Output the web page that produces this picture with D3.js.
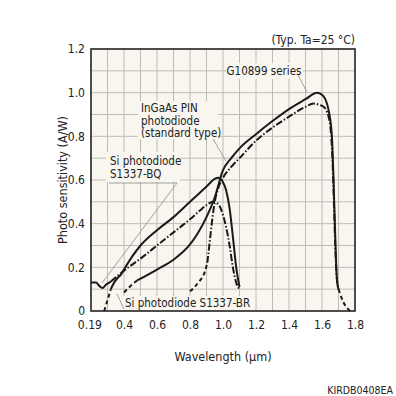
<!DOCTYPE html>
<html>
<head>
<meta charset="utf-8">
<script src="https://cdn.jsdelivr.net/npm/d3@7"></script>
<style>
  body { margin: 0; background: #fff; }
  svg text { font-family: "DejaVu Sans Condensed", "DejaVu Sans", sans-serif; fill: #222; }
</style>
</head>
<body>
<div id="chart"></div>
<script>
// tick labels
var xTicks = [0.19, 0.4, 0.6, 0.8, 1.0, 1.2, 1.4, 1.6, 1.8];
var yTicks = [0, 0.2, 0.4, 0.6, 0.8, 1.0, 1.2];

// G10899 series (solid, dashed ends)
var g10899Start = [[0.40, 0.085], [0.44, 0.115], [0.48, 0.14]];
var g10899 = [[0.48, 0.14], [0.6, 0.19], [0.7, 0.235], [0.8, 0.305], [0.85, 0.36], [0.9, 0.43],
  [0.95, 0.52], [1.0, 0.645], [1.05, 0.70], [1.1, 0.745], [1.2, 0.81], [1.3, 0.87], [1.4, 0.925],
  [1.5, 0.97], [1.57, 1.0], [1.6, 0.99], [1.62, 0.97], [1.64, 0.92], [1.66, 0.80], [1.67, 0.6],
  [1.68, 0.35], [1.69, 0.15], [1.70, 0.10]];
var g10899Tail = [[1.70, 0.10], [1.73, 0.04], [1.77, 0.0]];

// InGaAs PIN photodiode standard type (dash-dot, dashed start)
var ingaasStart = [[0.80, 0.09], [0.85, 0.13], [0.89, 0.18], [0.905, 0.22]];
var ingaas = [[0.905, 0.22], [0.92, 0.32], [0.935, 0.42], [0.95, 0.50], [0.97, 0.56], [1.0, 0.61],
  [1.05, 0.66], [1.1, 0.70], [1.2, 0.78], [1.3, 0.84], [1.4, 0.89], [1.5, 0.935], [1.55, 0.95],
  [1.58, 0.945], [1.61, 0.935], [1.64, 0.89], [1.66, 0.75], [1.67, 0.55], [1.68, 0.3],
  [1.69, 0.15], [1.70, 0.10]];

// Si photodiode S1337-BQ (solid UV part, then dash-dot)
var bqUv = [[0.2, 0.13], [0.23, 0.13], [0.25, 0.115], [0.27, 0.105], [0.29, 0.12], [0.32, 0.135]];
var bq = [[0.32, 0.135], [0.4, 0.185], [0.5, 0.24], [0.6, 0.30], [0.7, 0.36], [0.8, 0.42],
  [0.86, 0.46], [0.9, 0.485], [0.94, 0.50], [0.97, 0.49], [1.0, 0.44], [1.02, 0.38],
  [1.04, 0.30], [1.06, 0.20], [1.08, 0.13], [1.10, 0.10]];

// Si photodiode S1337-BR (solid, dashed start)
var brStart = [[0.28, 0.0], [0.30, 0.05], [0.32, 0.10]];
var br = [[0.32, 0.10], [0.34, 0.13], [0.36, 0.15], [0.38, 0.165], [0.4, 0.19], [0.45, 0.25],
  [0.5, 0.30], [0.6, 0.37], [0.7, 0.43], [0.8, 0.50], [0.9, 0.57], [0.95, 0.605], [0.97, 0.61],
  [1.0, 0.59], [1.02, 0.55], [1.04, 0.47], [1.06, 0.34], [1.08, 0.20], [1.10, 0.11]];

var width = 396, height = 396;
var margin = {top: 49, right: 41, bottom: 85, left: 91};
var w = width - margin.left - margin.right,
    h = height - margin.top - margin.bottom;
var bg = "#f8f6ef";

var x = d3.scaleLinear().domain([0.2, 1.8]).range([0, w]);
var y = d3.scaleLinear().domain([0, 1.2]).range([h, 0]);

var svg = d3.select("#chart").append("svg")
    .attr("width", width)
    .attr("height", height);

var g = svg.append("g")
    .attr("transform", "translate(" + margin.left + "," + margin.top + ")");

g.append("rect")
    .attr("width", w)
    .attr("height", h)
    .attr("fill", bg);

// grid every 0.1
g.append("g").selectAll("line")
    .data(d3.range(3, 18).map(function(i) { return i / 10; }))
    .enter().append("line")
    .attr("x1", function(d) { return x(d); })
    .attr("x2", function(d) { return x(d); })
    .attr("y1", 0).attr("y2", h)
    .attr("stroke", "#bdbcb6").attr("stroke-width", 1);

g.append("g").selectAll("line")
    .data(d3.range(1, 12).map(function(i) { return i / 10; }))
    .enter().append("line")
    .attr("y1", function(d) { return y(d); })
    .attr("y2", function(d) { return y(d); })
    .attr("x1", 0).attr("x2", w)
    .attr("stroke", "#bdbcb6").attr("stroke-width", 1);

// axes
var xAxis = d3.axisBottom(x).tickValues(xTicks).tickSize(0).tickPadding(9)
    .tickFormat(function(d) { return d === 0.19 ? "0.19" : d3.format(".1f")(d); });
var yAxis = d3.axisLeft(y).tickValues(yTicks).tickSize(0).tickPadding(6)
    .tickFormat(function(d) { return d === 0 ? "0" : d3.format(".1f")(d); });

g.append("g")
    .attr("transform", "translate(0," + h + ")")
    .call(xAxis)
    .call(function(s) { s.select(".domain").remove(); })
    .selectAll("text").style("font-size", "12px");

g.append("g")
    .call(yAxis)
    .call(function(s) { s.select(".domain").remove(); })
    .selectAll("text").style("font-size", "12px");

// label boxes (hide grid)
var boxes = [
  {x: 226, y: 63, w: 77, h: 16},
  {x: 138, y: 101, w: 80, h: 38},
  {x: 106, y: 152, w: 74, h: 30},
  {x: 121, y: 296, w: 128, h: 14}
];
svg.append("g").selectAll("rect")
    .data(boxes)
    .enter().append("rect")
    .attr("x", function(d) { return d.x; })
    .attr("y", function(d) { return d.y; })
    .attr("width", function(d) { return d.w; })
    .attr("height", function(d) { return d.h; })
    .attr("fill", bg);

// leader lines
var leaders = [
  [[298, 75], [307, 92]],
  [[213, 139], [226, 161]],
  [[109, 183], [177, 183], [102, 283]],
  [[117, 294], [124, 309]]
];
svg.append("g").selectAll("path")
    .data(leaders)
    .enter().append("path")
    .attr("d", d3.line())
    .attr("fill", "none")
    .attr("stroke", "#8a8a8a")
    .attr("stroke-width", 0.8);

// curves
var line = d3.line()
    .x(function(d) { return x(d[0]); })
    .y(function(d) { return y(d[1]); })
    .curve(d3.curveMonotoneX);

var dashDot = "7,2,1.5,2", dashed = "4,3";
var curves = [
  {data: g10899Start, dash: dashed},
  {data: g10899, dash: null},
  {data: g10899Tail, dash: dashed},
  {data: ingaasStart, dash: dashed},
  {data: ingaas, dash: dashDot},
  {data: bqUv, dash: null},
  {data: bq, dash: dashDot},
  {data: brStart, dash: dashed},
  {data: br, dash: null}
];

g.append("g").selectAll("path")
    .data(curves)
    .enter().append("path")
    .attr("d", function(d) { return line(d.data); })
    .attr("fill", "none")
    .attr("stroke", "#1a1a1a")
    .attr("stroke-width", 2)
    .attr("stroke-dasharray", function(d) { return d.dash; });

// frame
g.append("rect")
    .attr("width", w)
    .attr("height", h)
    .attr("fill", "none")
    .attr("stroke", "#222")
    .attr("stroke-width", 1.6);

// annotations
function label(lines, px, py, anchor) {
  var t = svg.append("text")
      .attr("x", px).attr("y", py)
      .attr("text-anchor", anchor || "start")
      .style("font-size", "11.5px");
  lines.forEach(function(s, i) {
    t.append("tspan").attr("x", px).attr("dy", i ? "1.1em" : 0).text(s);
  });
}
label(["G10899 series"], 264, 75, "middle");
label(["InGaAs PIN", "photodiode", "(standard type)"], 141, 112);
label(["Si photodiode", "S1337-BQ"], 110, 165);
label(["Si photodiode S1337-BR"], 125, 307);

svg.append("text")
    .attr("x", 355).attr("y", 44)
    .attr("text-anchor", "end")
    .style("font-size", "12px")
    .text("(Typ. Ta=25 °C)");

svg.append("text")
    .attr("transform", "translate(67," + (margin.top + h / 2) + ") rotate(-90)")
    .attr("text-anchor", "middle")
    .style("font-size", "12.5px")
    .text("Photo sensitivity (A/W)");

svg.append("text")
    .attr("x", margin.left + w / 2).attr("y", 361)
    .attr("text-anchor", "middle")
    .style("font-size", "12.5px")
    .text("Wavelength (μm)");

svg.append("text")
    .attr("x", 393).attr("y", 394)
    .attr("text-anchor", "end")
    .style("font-size", "10.5px")
    .text("KIRDB0408EA");
</script>
</body>
</html>
